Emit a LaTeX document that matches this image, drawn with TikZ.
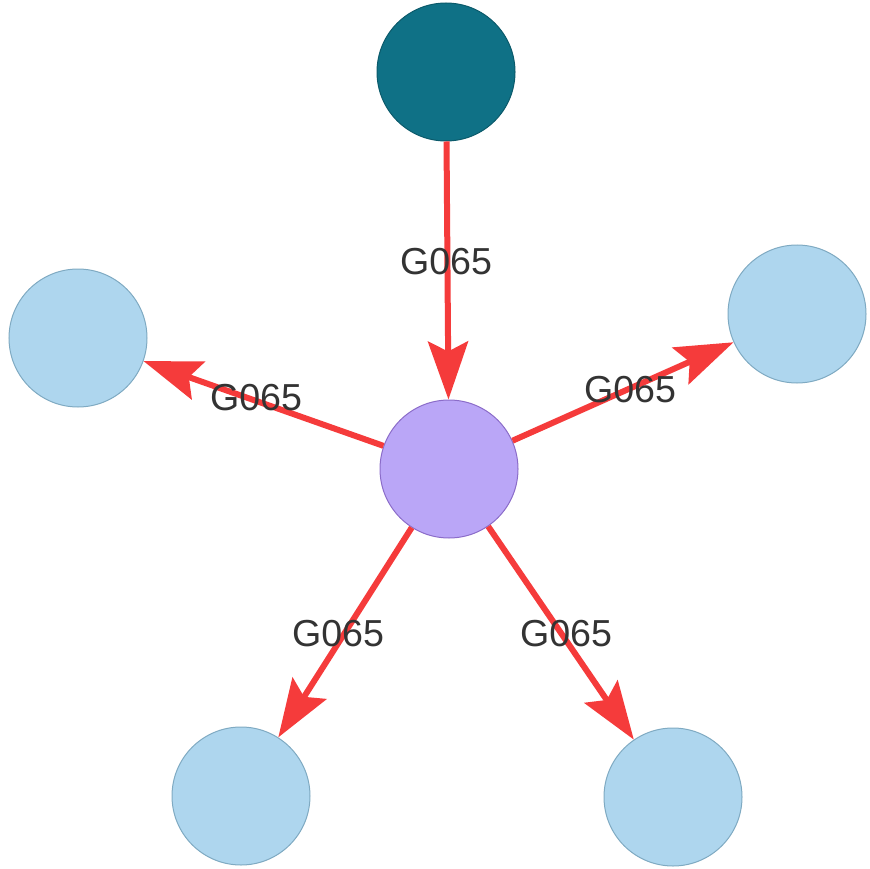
\documentclass[tikz,border=0pt]{standalone}
\usepackage{fontspec}
\setmainfont{Liberation Sans}
\usetikzlibrary{arrows.meta}
\definecolor{teal}{HTML}{0F7186}
\definecolor{tealbd}{HTML}{0B5A6B}
\definecolor{leaf}{HTML}{AED6EE}
\definecolor{leafbd}{HTML}{7FAAC2}
\definecolor{hub}{HTML}{BAA6F7}
\definecolor{hubbd}{HTML}{8B6CC9}
\definecolor{edgered}{HTML}{F53B3B}
\definecolor{labelgray}{HTML}{333333}
\tikzset{
  vert/.style={circle, minimum size=138pt, inner sep=0pt, line width=1pt},
  rootv/.style={vert, fill=teal, draw=tealbd},
  leafv/.style={vert, fill=leaf, draw=leafbd},
  hubv/.style={vert, fill=hub, draw=hubbd},
  link/.style={draw=edgered, line width=6pt, -{Stealth[length=58pt, width=40pt, inset=10pt]}},
  lbl/.style={text=labelgray, font=\fontsize{37.6}{45}\selectfont, inner sep=0pt}
}
\begin{document}
\begin{tikzpicture}[x=1pt, y=-1pt]
\useasboundingbox (0,0) rectangle (870,869);
\node[rootv] (top) at (446,72) {};
\node[hubv] (c) at (449,469) {};
\node[leafv] (l) at (78,338) {};
\node[leafv] (r) at (797,314) {};
\node[leafv] (bl) at (241,796) {};
\node[leafv] (br) at (673,797) {};
\draw[link] (top) -- (c);
\draw[link] (c) -- (l);
\draw[link] (c) -- (r);
\draw[link] (c) -- (bl);
\draw[link] (c) -- (br);
\node[lbl] (t1) at (446,262) {G065};
\node[lbl] (t2) at (256,398) {G065};
\node[lbl] (t3) at (630,390) {G065};
\node[lbl] (t4) at (338,634) {G065};
\node[lbl] (t5) at (566,634) {G065};
\end{tikzpicture}
\end{document}
